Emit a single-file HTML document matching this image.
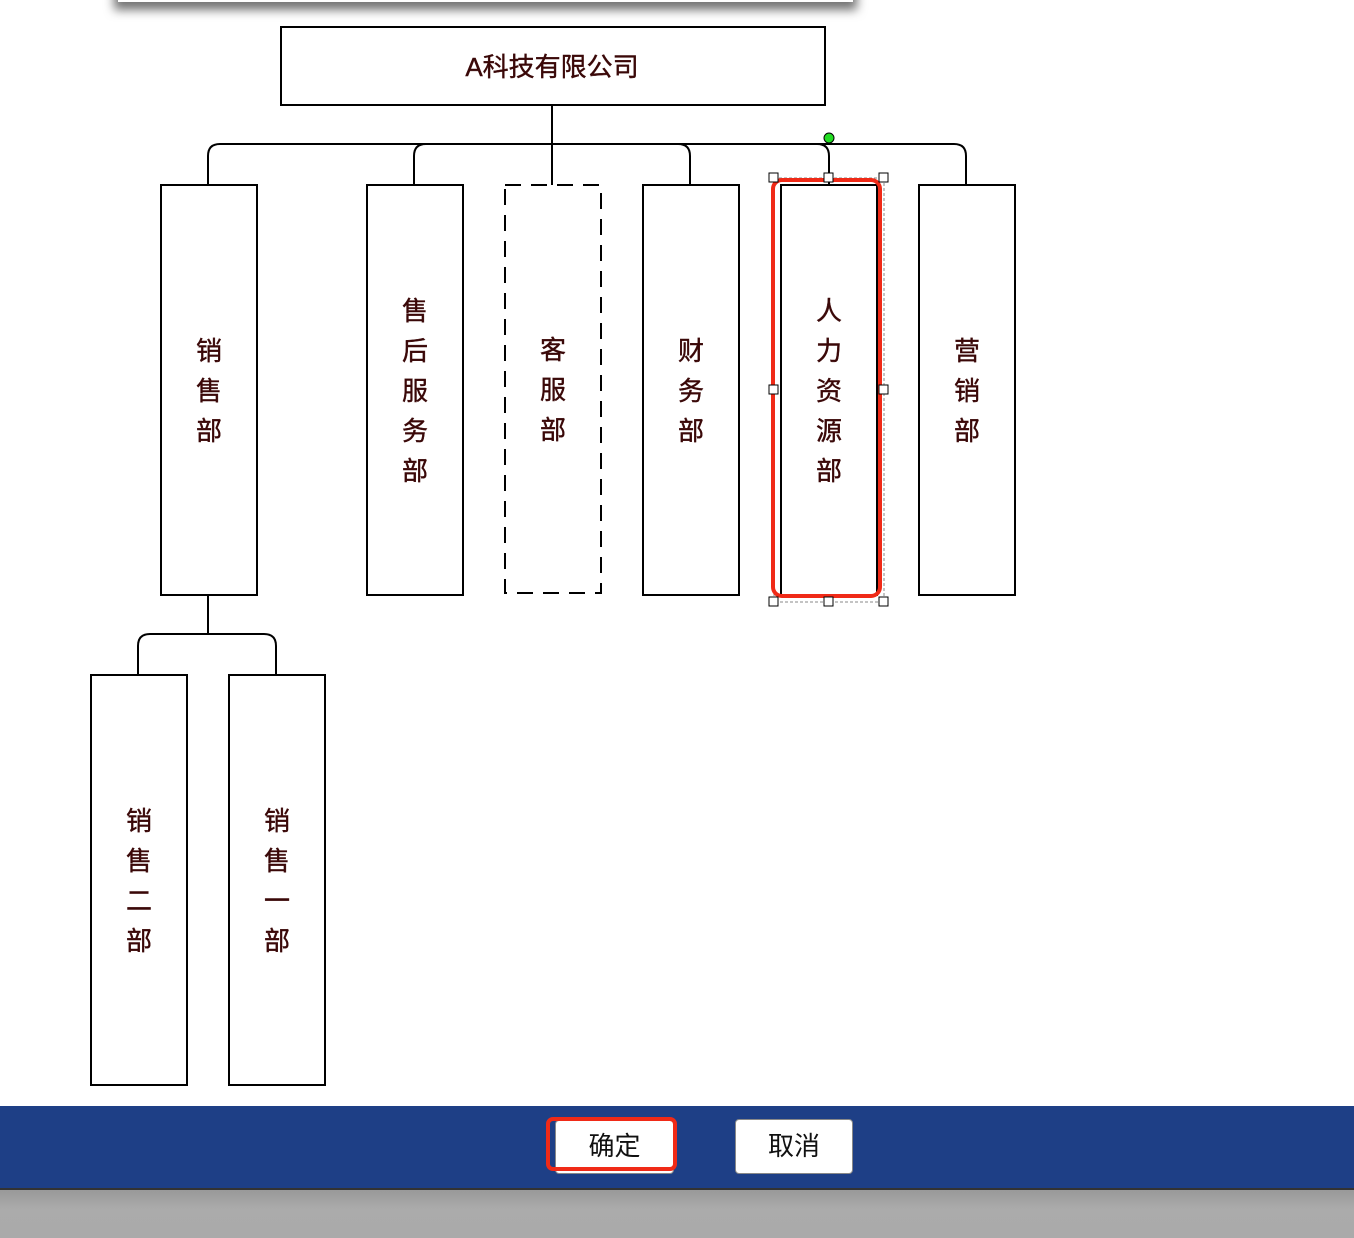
<!DOCTYPE html>
<html><head><meta charset="utf-8"><style>
body{margin:0;width:1354px;height:1238px;overflow:hidden;background:#fff;font-family:"Liberation Sans","Noto Sans CJK SC",sans-serif;position:relative}
.topbar{position:absolute;left:118px;top:-20px;width:735px;height:22px;background:#fff;box-shadow:0 4px 10px 4px rgba(0,0,0,.55)}
.blue{position:absolute;left:0;top:1106px;width:1354px;height:82px;background:#1e3f86;border-bottom:2px solid #333}
.gray{position:absolute;left:0;top:1190px;width:1354px;height:48px;background:linear-gradient(#999,#ababab 40%,#aaa)}
.btn{position:absolute;background:#fff;border:1px solid #888;border-radius:4px;font-size:26px;text-align:center;color:#111}
</style></head><body>
<div class="topbar"></div>
<svg width="1354" height="1106" style="position:absolute;left:0;top:0" font-family="Liberation Sans, Noto Sans CJK SC, sans-serif">
<g fill="none" stroke="#000" stroke-width="2">
<rect x="281" y="27" width="544" height="78"/>
<line x1="552" y1="105" x2="552" y2="185"/>
<path d="M208 185V156Q208 144 220 144H954Q966 144 966 156V185"/>
<path d="M414 185V156Q414 144 426 144"/>
<path d="M690 185V156Q690 144 678 144"/>
<path d="M829 185V156Q829 144 817 144"/>
<rect x="161" y="185" width="96" height="410"/>
<rect x="367" y="185" width="96" height="410"/>
<rect x="505" y="185" width="96" height="408" stroke-dasharray="16,10"/>
<rect x="643" y="185" width="96" height="410"/>
<rect x="781" y="185" width="96" height="410"/>
<rect x="919" y="185" width="96" height="410"/>
<path d="M208 595V634"/>
<path d="M138 675V646Q138 634 150 634H264Q276 634 276 646V675"/>
<rect x="91" y="675" width="96" height="410"/>
<rect x="229" y="675" width="96" height="410"/>
</g>
<rect x="774" y="178" width="110" height="424" fill="none" stroke="#888" stroke-width="1" stroke-dasharray="3,2"/>
<rect x="773" y="180" width="107" height="416" rx="9" fill="none" stroke="#f02a17" stroke-width="4"/>
<g fill="#fff" stroke="#000" stroke-width="1">
<rect x="769" y="173" width="9" height="9"/><rect x="824" y="173" width="9" height="9"/><rect x="879" y="173" width="9" height="9"/>
<rect x="769" y="385" width="9" height="9"/><rect x="879" y="385" width="9" height="9"/>
<rect x="769" y="597" width="9" height="9"/><rect x="824" y="597" width="9" height="9"/><rect x="879" y="597" width="9" height="9"/>
</g>
<circle cx="829" cy="138" r="5" fill="#22dd22" stroke="#000" stroke-width="1"/>
<g fill="#3a0808" font-size="26" text-anchor="middle" stroke="#3a0808" stroke-width="0.4">
<text x="552" y="76">A科技有限公司</text>
<g transform="translate(209,0)"><text y="360">销</text><text y="400">售</text><text y="440">部</text></g>
<g transform="translate(415,0)"><text y="320">售</text><text y="360">后</text><text y="400">服</text><text y="440">务</text><text y="480">部</text></g>
<g transform="translate(553,0)"><text y="359">客</text><text y="399">服</text><text y="439">部</text></g>
<g transform="translate(691,0)"><text y="360">财</text><text y="400">务</text><text y="440">部</text></g>
<g transform="translate(829,0)"><text y="320">人</text><text y="360">力</text><text y="400">资</text><text y="440">源</text><text y="480">部</text></g>
<g transform="translate(967,0)"><text y="360">营</text><text y="400">销</text><text y="440">部</text></g>
<g transform="translate(139,0)"><text y="830">销</text><text y="870">售</text><text y="910">二</text><text y="950">部</text></g>
<g transform="translate(277,0)"><text y="830">销</text><text y="870">售</text><text y="910">一</text><text y="950">部</text></g>
</g>
</svg>
<div class="blue"></div>
<div class="gray"></div>
<div class="btn" style="left:555px;top:1120px;width:117px;height:52px;line-height:50px">确定</div>
<div style="position:absolute;left:546px;top:1117px;width:123px;height:46px;border:4px solid #f02a17;border-radius:7px"></div>
<div class="btn" style="left:735px;top:1119px;width:116px;height:53px;line-height:53px">取消</div>
</body></html>
